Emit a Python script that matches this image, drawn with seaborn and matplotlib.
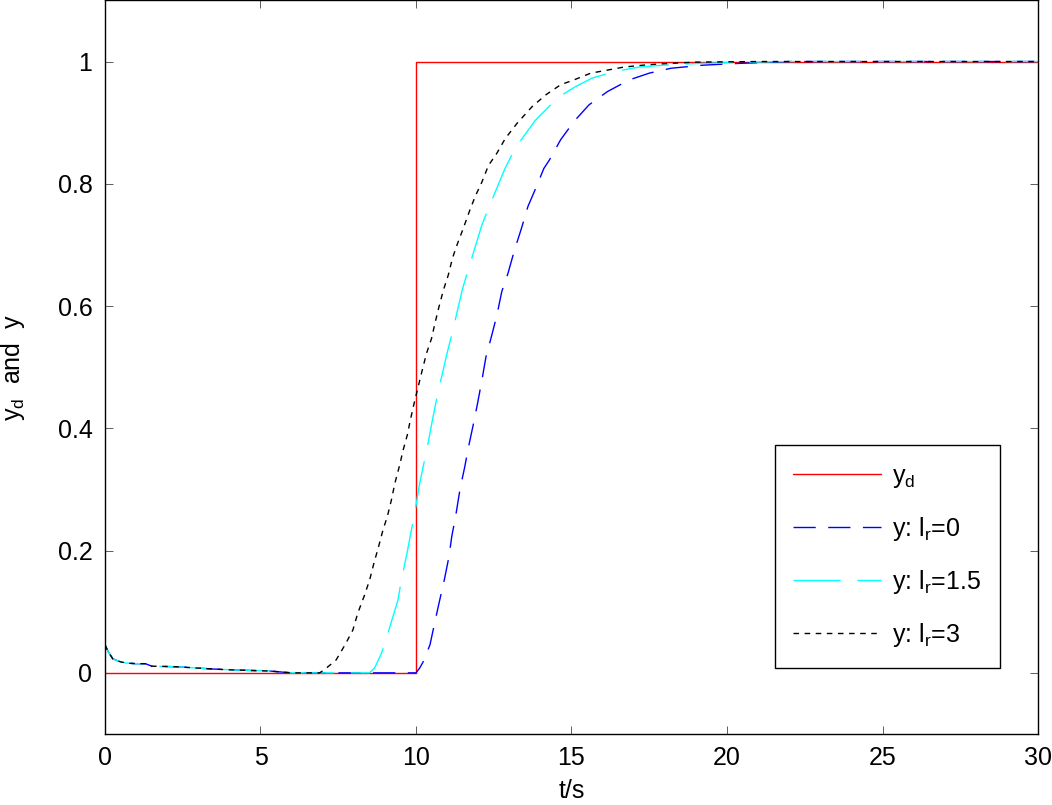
import numpy as np
import matplotlib
matplotlib.use('Agg')
import matplotlib.pyplot as plt
import seaborn as sns

sns.set_style('white')
plt.rcParams['font.family'] = ['Liberation Sans', 'DejaVu Sans']
plt.rcParams['mathtext.fontset'] = 'custom'
plt.rcParams['mathtext.rm'] = 'Liberation Sans'
plt.rcParams['text.color'] = 'black'
plt.rcParams['axes.labelcolor'] = 'black'
plt.rcParams['xtick.labelcolor'] = 'black'
plt.rcParams['ytick.labelcolor'] = 'black'

# reference step y_d
t_ref = [0, 10, 10, 30]
y_ref = [0, 0, 1, 1]

# shared initial transient (all three responses overlap here)
t_start = [0, 0.1, 0.25, 0.5, 0.7, 1.0, 1.3, 1.5, 2.3, 3.4, 4.0, 5.3, 6.0]
y_start = [0.046, 0.035, 0.023, 0.018, 0.016, 0.015, 0.015, 0.011, 0.010, 0.0065, 0.005, 0.003, 0.0]

# y: l_r = 0
t_lr0 = [6.9, 10.0, 10.12, 10.23, 10.45, 10.61, 10.74, 10.91, 11.06, 11.15, 11.29, 11.42, 11.56,
         11.69, 11.85, 11.98, 12.12, 12.25, 12.44, 12.6, 12.76, 12.96, 13.17, 13.39, 13.6, 13.87,
         14.11, 14.29, 14.65, 15.08, 15.56, 16.16, 16.86, 17.5, 18.2, 19.22, 20.4, 22.0, 30.0]
y_lr0 = [0.0, 0.0, 0.008, 0.018, 0.046, 0.084, 0.114, 0.152, 0.19, 0.223, 0.261, 0.302, 0.335,
         0.37, 0.408, 0.441, 0.479, 0.517, 0.553, 0.585, 0.624, 0.654, 0.692, 0.727, 0.763, 0.795,
         0.825, 0.839, 0.872, 0.902, 0.929, 0.951, 0.970, 0.981, 0.989, 0.994, 0.997, 1.0, 1.0]

# y: l_r = 1.5
t_lr15 = [6.9, 8.5, 8.67, 8.89, 9.1, 9.24, 9.42, 9.53, 9.72, 9.83, 9.96, 10.1, 10.23, 10.39, 10.53,
          10.66, 10.8, 11.0, 11.15, 11.5, 11.66, 12.12, 12.33, 12.87, 13.19, 13.41, 13.84, 14.27,
          14.59, 15.13, 15.67, 16.42, 17.18, 17.93, 19.1, 20.7, 22.0, 30.0]
y_lr15 = [0.0, 0.0, 0.008, 0.032, 0.065, 0.089, 0.119, 0.152, 0.198, 0.228, 0.261, 0.305, 0.337,
          0.376, 0.414, 0.447, 0.479, 0.523, 0.553, 0.629, 0.656, 0.733, 0.76, 0.826, 0.858, 0.874,
          0.904, 0.926, 0.942, 0.959, 0.973, 0.984, 0.991, 0.994, 0.997, 0.999, 1.0, 1.0]

# y: l_r = 3
t_lr3 = [6.9, 7.05, 7.43, 7.72, 7.97, 8.13, 8.33, 8.51, 8.65, 8.8, 8.94, 9.08, 9.21, 9.32, 9.46,
         9.59, 9.72, 9.82, 9.94, 10.07, 10.2, 10.34, 10.5, 10.61, 10.74, 10.88, 11.04, 11.17, 11.34,
         11.52, 11.71, 11.9, 12.12, 12.33, 12.6, 12.87, 13.25, 13.73, 14.16, 14.65, 15.13, 15.62,
         16.16, 16.69, 17.29, 17.8, 19.0, 21.0, 30.0]
y_lr3 = [0.0, 0.005, 0.021, 0.046, 0.07, 0.098, 0.125, 0.152, 0.18, 0.207, 0.234, 0.256, 0.283,
         0.31, 0.337, 0.365, 0.389, 0.414, 0.441, 0.468, 0.495, 0.523, 0.547, 0.572, 0.599, 0.626,
         0.651, 0.678, 0.703, 0.727, 0.754, 0.779, 0.803, 0.83, 0.85, 0.874, 0.899, 0.926, 0.945,
         0.962, 0.971, 0.981, 0.986, 0.991, 0.994, 0.996, 0.999, 1.0, 1.0]

fig = plt.figure(figsize=(10.52, 8.05), dpi=100)
ax = fig.add_axes([0.0998, 0.0882, 0.8869, 0.9113])

sns.lineplot(x=t_ref, y=y_ref, color='#ff0000', lw=1.0, estimator=None, sort=False,
             label=r'$\mathregular{y_d}$', ax=ax)
sns.lineplot(x=t_start + t_lr0, y=y_start + y_lr0, color='#0000ff', lw=1.0, estimator=None,
             sort=False, label=r'y: $\mathregular{l_r}$=0', ax=ax)
sns.lineplot(x=t_start + t_lr15, y=y_start + y_lr15, color='#00ffff', lw=1.0, estimator=None,
             sort=False, label=r'y: $\mathregular{l_r}$=1.5', ax=ax)
sns.lineplot(x=t_start + t_lr3, y=y_start + y_lr3, color='black', lw=1.0, estimator=None,
             sort=False, label=r'y: $\mathregular{l_r}$=3', ax=ax)

styles = [None, (0, (16, 9)), (0, (34, 12)), (0, (4, 4))]
for line, st in zip(ax.get_lines(), styles):
    if st is not None:
        line.set_linestyle(st)

ax.set_xlim(0, 30)
ax.set_ylim(-0.1, 1.1)
ax.set_xticks([0, 5, 10, 15, 20, 25, 30])
ax.set_yticks([0, 0.2, 0.4, 0.6, 0.8, 1])
ax.set_yticklabels(['0', '0.2', '0.4', '0.6', '0.8', '1'])
ax.tick_params(direction='in', length=6, width=0.6, color='#444444', labelsize=18,
               top=True, right=True, bottom=True, left=True, pad=9)
for s in ax.spines.values():
    s.set_color('black')
    s.set_linewidth(1.0)

ax.set_xlabel('t/s', fontsize=18, labelpad=6)
ax.set_ylabel(r'$\mathregular{y_d}$  and  y', fontsize=18, labelpad=22)

leg = ax.legend(loc='lower right', bbox_to_anchor=(0.959, 0.09), borderaxespad=0,
                fontsize=18, handlelength=3.5, labelspacing=1.0, fancybox=False,
                edgecolor='black', framealpha=1, borderpad=0.75, handletextpad=0.45)
leg.get_frame().set_linewidth(1.0)
for h, st in zip(leg.get_lines(), styles):
    if st is not None:
        h.set_linestyle(st)

fig.savefig('out.png', dpi=100)
